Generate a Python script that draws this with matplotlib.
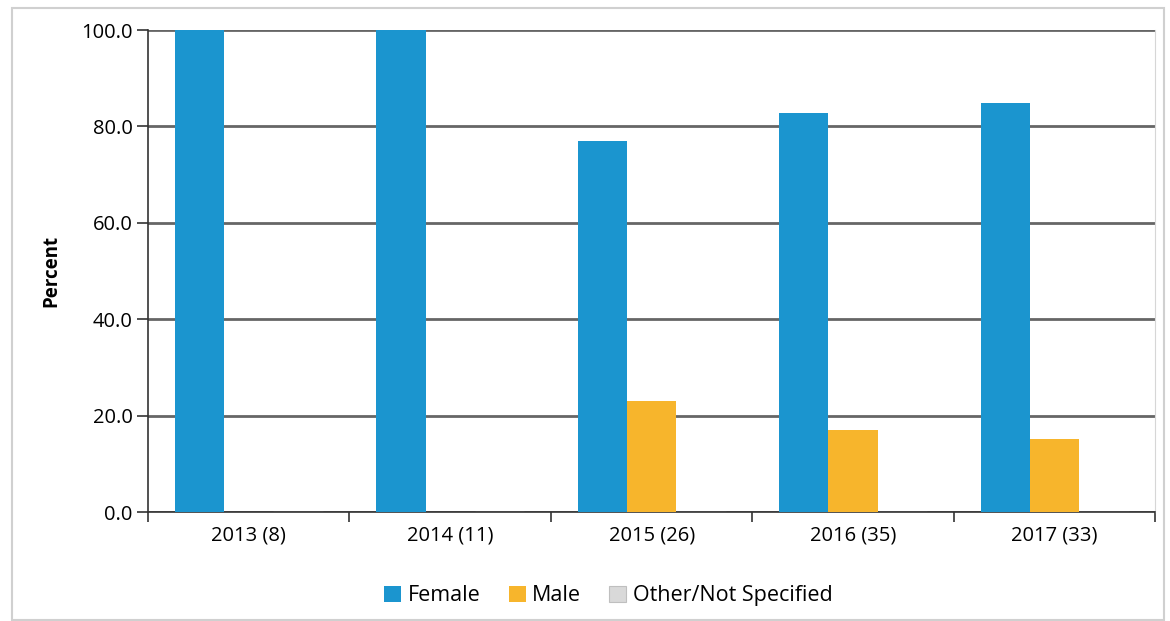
import numpy as np
import matplotlib.pyplot as plt
from matplotlib.patches import Rectangle

categories = ['2013 (8)', '2014 (11)', '2015 (26)', '2016 (35)', '2017 (33)']
female = [100.0, 100.0, 76.9, 82.9, 84.8]
male = [0.0, 0.0, 23.1, 17.1, 15.2]
other = [0.0, 0.0, 0.0, 0.0, 0.0]

series = [('Female', female, '#1b95cf'),
          ('Male', male, '#f7b52c'),
          ('Other/Not Specified', other, '#d9d9d9')]

plt.rcParams['font.family'] = ['Open Sans', 'DejaVu Sans']

fig = plt.figure(figsize=(11.7, 6.21), dpi=100)
fig.patches.append(Rectangle((0.010, 0.002), 0.985, 0.985, transform=fig.transFigure,
                             fill=False, edgecolor='#d0d0d0', linewidth=1.5))
ax = fig.add_axes([0.1265, 0.1755, 0.861, 0.776])

x = np.arange(len(categories))
w = 0.245
for i, (name, vals, col) in enumerate(series):
    ax.bar(x + (i - 1) * w, vals, width=w, color=col, label=name, zorder=3,
           edgecolor='#bfbfbf' if name.startswith('Other') else 'none', linewidth=0.8)

ax.set_xlim(-0.5, len(categories) - 0.5)
ax.set_ylim(0, 100)
ax.set_yticks(np.arange(0, 101, 20))
ax.set_yticklabels([f'{v:.1f}' for v in np.arange(0, 101, 20)], fontsize=14.5)
ax.yaxis.grid(True, color='#666666', linewidth=2, zorder=1)
ax.tick_params(axis='y', length=8, width=1.2, color='#333333', pad=3)

ax.set_xticks(x)
ax.set_xticklabels(categories, fontsize=14.5)
ax.tick_params(axis='x', length=0, pad=10)
ax.set_xticks(np.arange(-0.5, len(categories)), minor=True)
ax.tick_params(axis='x', which='minor', length=7, width=1.2, color='#333333')

ax.set_ylabel('Percent', fontsize=13.5, fontweight='bold', labelpad=14)

ax.spines['left'].set_color('#333333')
ax.spines['left'].set_linewidth(1.2)
ax.spines['bottom'].set_color('#333333')
ax.spines['bottom'].set_linewidth(1.2)
ax.spines['right'].set_color('#d6d6d6')
ax.spines['top'].set_visible(False)

ax.legend(loc='upper center', bbox_to_anchor=(0.457, -0.112), ncol=3, frameon=False,
          fontsize=15.5, handlelength=0.8, handleheight=0.8, handletextpad=0.3,
          columnspacing=1.3)

fig.savefig('out.png', dpi=100)
